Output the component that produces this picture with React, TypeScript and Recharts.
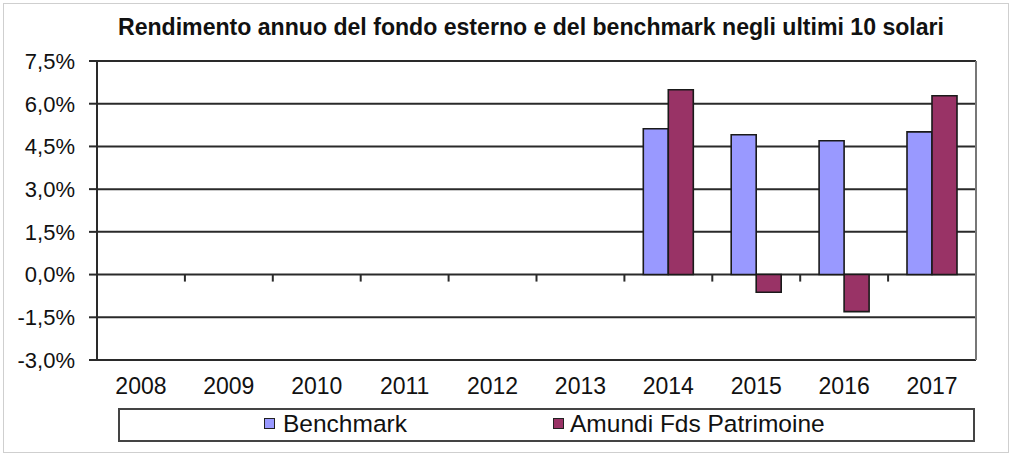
import React from 'react';
import { BarChart, Bar, XAxis, YAxis, CartesianGrid, Legend } from 'recharts';

// valori (rendimento annuo %)
const anni = ['2008', '2009', '2010', '2011', '2012', '2013', '2014', '2015', '2016', '2017'];
const benchmark = [null, null, null, null, null, null, 5.12, 4.91, 4.7, 5.01];
const fondo = [null, null, null, null, null, null, 6.49, -0.62, -1.3, 6.28];
const yTicks = [-3, -1.5, 0, 1.5, 3, 4.5, 6, 7.5];

const titolo = 'Rendimento annuo del fondo esterno e del benchmark negli ultimi 10 solari';
const nomeBenchmark = 'Benchmark';
const nomeFondo = 'Amundi Fds Patrimoine';

const BLU = '#9999FF';
const ROSSO = '#993366';
const LINEA = '#2a2a2a';
const FONT = '"Liberation Sans", Arial, sans-serif';

const W = 1012;
const H = 461;
const TOP = 61;
const BOTTOM_PLOT = 360;
const Y_MIN = -3;
const Y_MAX = 7.5;
const zeroY = TOP + ((BOTTOM_PLOT - TOP) * Y_MAX) / (Y_MAX - Y_MIN);

const data = anni.map((a, i) => ({ anno: a, benchmark: benchmark[i], fondo: fondo[i] }));

const fmt = (v: number) => v.toFixed(1).replace('.', ',') + '%';

// etichette sotto il grafico + tacche tra le categorie sull'asse dello zero
const XTick = (props: any) => {
  const { x, y, payload, index } = props;
  const off = payload.offset || 0;
  return (
    <g>
      {index < anni.length - 1 && (
        <line x1={x + off} x2={x + off} y1={zeroY} y2={zeroY + 7} stroke={LINEA} strokeWidth={2} />
      )}
      <text x={x} y={y} dy={26} textAnchor="middle" fontSize={23} fill="#111" fontFamily={FONT}>
        {payload.value}
      </text>
    </g>
  );
};

const LegendaBox = () => (
  <div
    style={{
      position: 'absolute',
      left: 118,
      top: 408,
      width: 857,
      height: 34,
      border: '2px solid #444',
      boxSizing: 'border-box',
      fontFamily: FONT,
      fontSize: 24.5,
      lineHeight: 1.149,
      color: '#111',
    }}
  >
    <span style={{ position: 'absolute', left: 144, top: 8, width: 11, height: 11, boxSizing: 'border-box', background: BLU, border: '1.5px solid #222' }} />
    <span style={{ position: 'absolute', left: 163, top: 0 }}>{nomeBenchmark}</span>
    <span style={{ position: 'absolute', left: 433, top: 8, width: 11, height: 11, boxSizing: 'border-box', background: ROSSO, border: '1.5px solid #222' }} />
    <span style={{ position: 'absolute', left: 450, top: 0 }}>{nomeFondo}</span>
  </div>
);

export default function App() {
  return (
    <div style={{ position: 'absolute', left: 0, top: 0, width: W, height: H, background: '#fff' }}>
      <div
        style={{
          position: 'absolute',
          left: 3,
          top: 3,
          width: 1006,
          height: 450,
          border: '1px solid #cfcfcf',
          boxSizing: 'border-box',
        }}
      />
      <svg style={{ position: 'absolute', left: 0, top: 0 }} width={W} height={50}>
        <text
          x={531}
          y={35}
          textAnchor="middle"
          fontFamily={FONT}
          fontWeight="bold"
          fontSize={23}
          fill="#111"
          textLength={826}
          lengthAdjust="spacingAndGlyphs"
        >
          {titolo}
        </text>
      </svg>
      <BarChart
        width={W}
        height={H}
        data={data}
        margin={{ top: TOP, right: 35, bottom: 71, left: 0 }}
        barCategoryGap="21.5%"
        barGap={0}
        style={{ position: 'absolute', left: 0, top: 0 }}
      >
        <CartesianGrid yAxisId="l" vertical={false} stroke={LINEA} strokeWidth={2} strokeOpacity={1} />
        <XAxis
          dataKey="anno"
          height={30}
          axisLine={false}
          tickLine={false}
          interval={0}
          tick={<XTick />}
        />
        <YAxis
          yAxisId="l"
          width={97}
          domain={[Y_MIN, Y_MAX]}
          ticks={yTicks}
          tickFormatter={fmt}
          tickSize={8}
          tickMargin={14}
          stroke={LINEA}
          strokeWidth={2}
          tick={{ fontSize: 22, fill: '#111', fontFamily: FONT }}
          interval={0}
        />
        <YAxis
          yAxisId="r"
          orientation="right"
          width={1}
          domain={[Y_MIN, Y_MAX]}
          tick={false}
          tickLine={false}
          stroke="#777"
          strokeWidth={2}
        />
        <Legend content={() => null} />
        <Bar yAxisId="l" dataKey="benchmark" name={nomeBenchmark} fill={BLU} stroke="#1a1a1a" strokeWidth={1.6} isAnimationActive={false} />
        <Bar yAxisId="l" dataKey="fondo" name={nomeFondo} fill={ROSSO} stroke="#1a1a1a" strokeWidth={1.6} isAnimationActive={false} />
      </BarChart>
      <LegendaBox />
    </div>
  );
}
